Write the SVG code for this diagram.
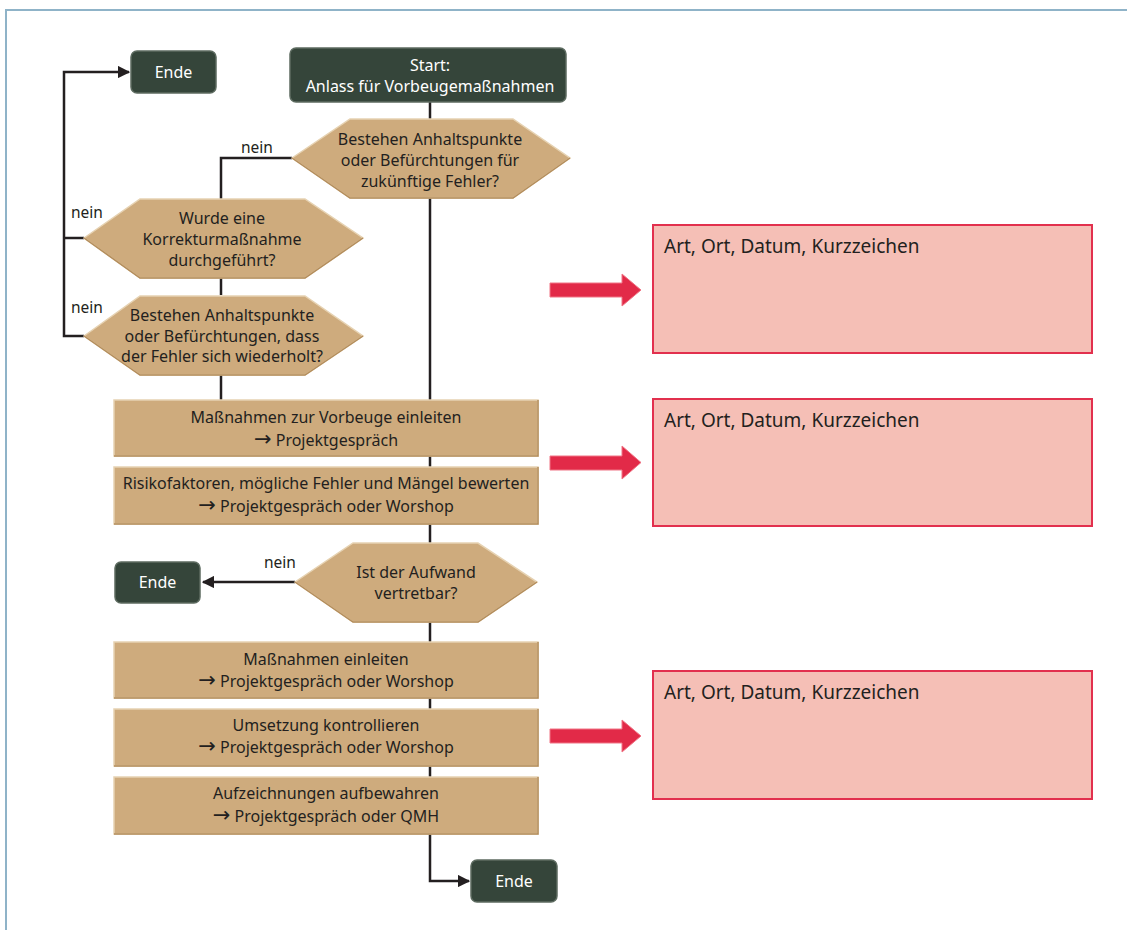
<svg xmlns="http://www.w3.org/2000/svg" width="1127" height="930" viewBox="0 0 1127 930">
<defs>
<style>
.t{font-family:"Noto Sans","Liberation Sans",sans-serif;font-size:16px;fill:#231f20;text-anchor:middle}
.w{font-family:"Noto Sans","Liberation Sans",sans-serif;font-size:16px;fill:#ffffff;text-anchor:middle}
.n{font-family:"Noto Sans","Liberation Sans",sans-serif;font-size:15.5px;fill:#231f20}
.r{font-family:"Noto Sans","Liberation Sans",sans-serif;font-size:19px;fill:#231f20}
.a{font-family:"DejaVu Sans",sans-serif;font-size:21px}
.dk{fill:#35453a;stroke:#5d6b60;stroke-width:1.5}
.tan{fill:#ceab7d;stroke:#e6d2b2;stroke-width:1.5}
.tanb{fill:none;stroke:#b38d5c;stroke-width:1.5}
.ln{fill:none;stroke:#231f20;stroke-width:2.5}
.box{fill:#f5bfb6;stroke:#e2304e;stroke-width:2}
.ra{fill:#e22a48;stroke:#f07585;stroke-width:1}
</style>
<marker id="ah" viewBox="0 0 10 10" refX="9" refY="5" markerWidth="5" markerHeight="5" orient="auto" markerUnits="strokeWidth">
<path d="M0,0 L10,5 L0,10 z" fill="#231f20"/>
</marker>
</defs>
<rect width="1127" height="930" fill="#ffffff"/>
<path d="M6,930 V10 H1127" fill="none" stroke="#8fb3c8" stroke-width="2"/>

<g id="connectors">
<path class="ln" d="M430,102 V119"/>
<path class="ln" d="M430,198 V400"/>
<path class="ln" d="M292,158 H221 V199"/>
<path class="ln" d="M221,278 V295"/>
<path class="ln" d="M221,375 V400"/>
<path class="ln" d="M84,238 H64"/>
<path class="ln" d="M84,336 H64 V72 H129" marker-end="url(#ah)"/>
<path class="ln" d="M430,456 V467"/>
<path class="ln" d="M430,524 V543"/>
<path class="ln" d="M295,582 H203" marker-end="url(#ah)"/>
<path class="ln" d="M430,622 V642"/>
<path class="ln" d="M430,698 V709"/>
<path class="ln" d="M430,766 V777"/>
<path class="ln" d="M430,834 V881 H469" marker-end="url(#ah)"/>
<text class="n" x="241" y="153">nein</text>
<text class="n" x="71" y="218">nein</text>
<text class="n" x="71" y="313">nein</text>
<text class="n" x="264" y="568">nein</text>
</g>

<g id="ende1">
<rect class="dk" x="131" y="51" width="85" height="42" rx="6"/>
<text class="w" x="173.5" y="77.5">Ende</text>
</g>

<g id="start">
<rect class="dk" x="290" y="48" width="276" height="54" rx="6"/>
<text class="w" x="430" y="71">Start:</text>
<text class="w" x="430" y="92">Anlass für Vorbeugemaßnahmen</text>
</g>

<g id="d1">
<polygon class="tan" points="292,158 350,119 513,119 570,158 513,198 350,198"/>
<polyline class="tanb" points="292,158 350,198 513,198 570,158"/>
<text class="t" x="430" y="145">Bestehen Anhaltspunkte</text>
<text class="t" x="430" y="166">oder Befürchtungen für</text>
<text class="t" x="430" y="187">zukünftige Fehler?</text>
</g>

<g id="d2">
<polygon class="tan" points="84,238 140,199 305,199 363,238 305,278 140,278"/>
<polyline class="tanb" points="84,238 140,278 305,278 363,238"/>
<text class="t" x="222" y="224">Wurde eine</text>
<text class="t" x="222" y="245">Korrekturmaßnahme</text>
<text class="t" x="222" y="266">durchgeführt?</text>
</g>

<g id="d3">
<polygon class="tan" points="84,336 140,296 305,296 363,336 305,375 140,375"/>
<polyline class="tanb" points="84,336 140,375 305,375 363,336"/>
<text class="t" x="222" y="321">Bestehen Anhaltspunkte</text>
<text class="t" x="222" y="342">oder Befürchtungen, dass</text>
<text class="t" x="222" y="362">der Fehler sich wiederholt?</text>
</g>

<g id="r1">
<rect class="tan" x="114" y="400" width="424" height="56"/>
<polyline class="tanb" points="114,456 538,456 538,400"/>
<text class="t" x="326" y="423">Maßnahmen zur Vorbeuge einleiten</text>
<text class="t" x="326" y="446"><tspan class="a">→</tspan> Projektgespräch</text>
</g>

<g id="r2">
<rect class="tan" x="114" y="467" width="424" height="57"/>
<polyline class="tanb" points="114,524 538,524 538,467"/>
<text class="t" x="326" y="489">Risikofaktoren, mögliche Fehler und Mängel bewerten</text>
<text class="t" x="326" y="512"><tspan class="a">→</tspan> Projektgespräch oder Worshop</text>
</g>

<g id="d4">
<polygon class="tan" points="295,582 353,543 478,543 537,582 478,622 353,622"/>
<polyline class="tanb" points="295,582 353,622 478,622 537,582"/>
<text class="t" x="416" y="578">Ist der Aufwand</text>
<text class="t" x="416" y="599">vertretbar?</text>
</g>

<g id="ende2">
<rect class="dk" x="115" y="562" width="85" height="41" rx="6"/>
<text class="w" x="157.5" y="588">Ende</text>
</g>

<g id="r3">
<rect class="tan" x="114" y="642" width="424" height="56"/>
<polyline class="tanb" points="114,698 538,698 538,642"/>
<text class="t" x="326" y="665">Maßnahmen einleiten</text>
<text class="t" x="326" y="687"><tspan class="a">→</tspan> Projektgespräch oder Worshop</text>
</g>

<g id="r4">
<rect class="tan" x="114" y="709" width="424" height="57"/>
<polyline class="tanb" points="114,766 538,766 538,709"/>
<text class="t" x="326" y="731">Umsetzung kontrollieren</text>
<text class="t" x="326" y="753"><tspan class="a">→</tspan> Projektgespräch oder Worshop</text>
</g>

<g id="r5">
<rect class="tan" x="114" y="777" width="424" height="57"/>
<polyline class="tanb" points="114,834 538,834 538,777"/>
<text class="t" x="326" y="799">Aufzeichnungen aufbewahren</text>
<text class="t" x="326" y="822"><tspan class="a">→</tspan> Projektgespräch oder QMH</text>
</g>

<g id="ende3">
<rect class="dk" x="471" y="860" width="86" height="42" rx="6"/>
<text class="w" x="514" y="887">Ende</text>
</g>

<g id="arrow1"><polygon class="ra" points="550,283 622,283 622,274 641,290 622,306 622,297 550,297"/></g>
<g id="arrow2"><polygon class="ra" points="550,456 622,456 622,446 641,462.5 622,479 622,470 550,470"/></g>
<g id="arrow3"><polygon class="ra" points="550,729 622,729 622,720 641,736 622,752 622,743 550,743"/></g>

<g id="box1">
<rect class="box" x="653" y="225" width="439" height="128"/>
<text class="r" x="664" y="253">Art, Ort, Datum, Kurzzeichen</text>
</g>
<g id="box2">
<rect class="box" x="653" y="399" width="439" height="127"/>
<text class="r" x="664" y="427">Art, Ort, Datum, Kurzzeichen</text>
</g>
<g id="box3">
<rect class="box" x="653" y="671" width="439" height="128"/>
<text class="r" x="664" y="699">Art, Ort, Datum, Kurzzeichen</text>
</g>
</svg>
